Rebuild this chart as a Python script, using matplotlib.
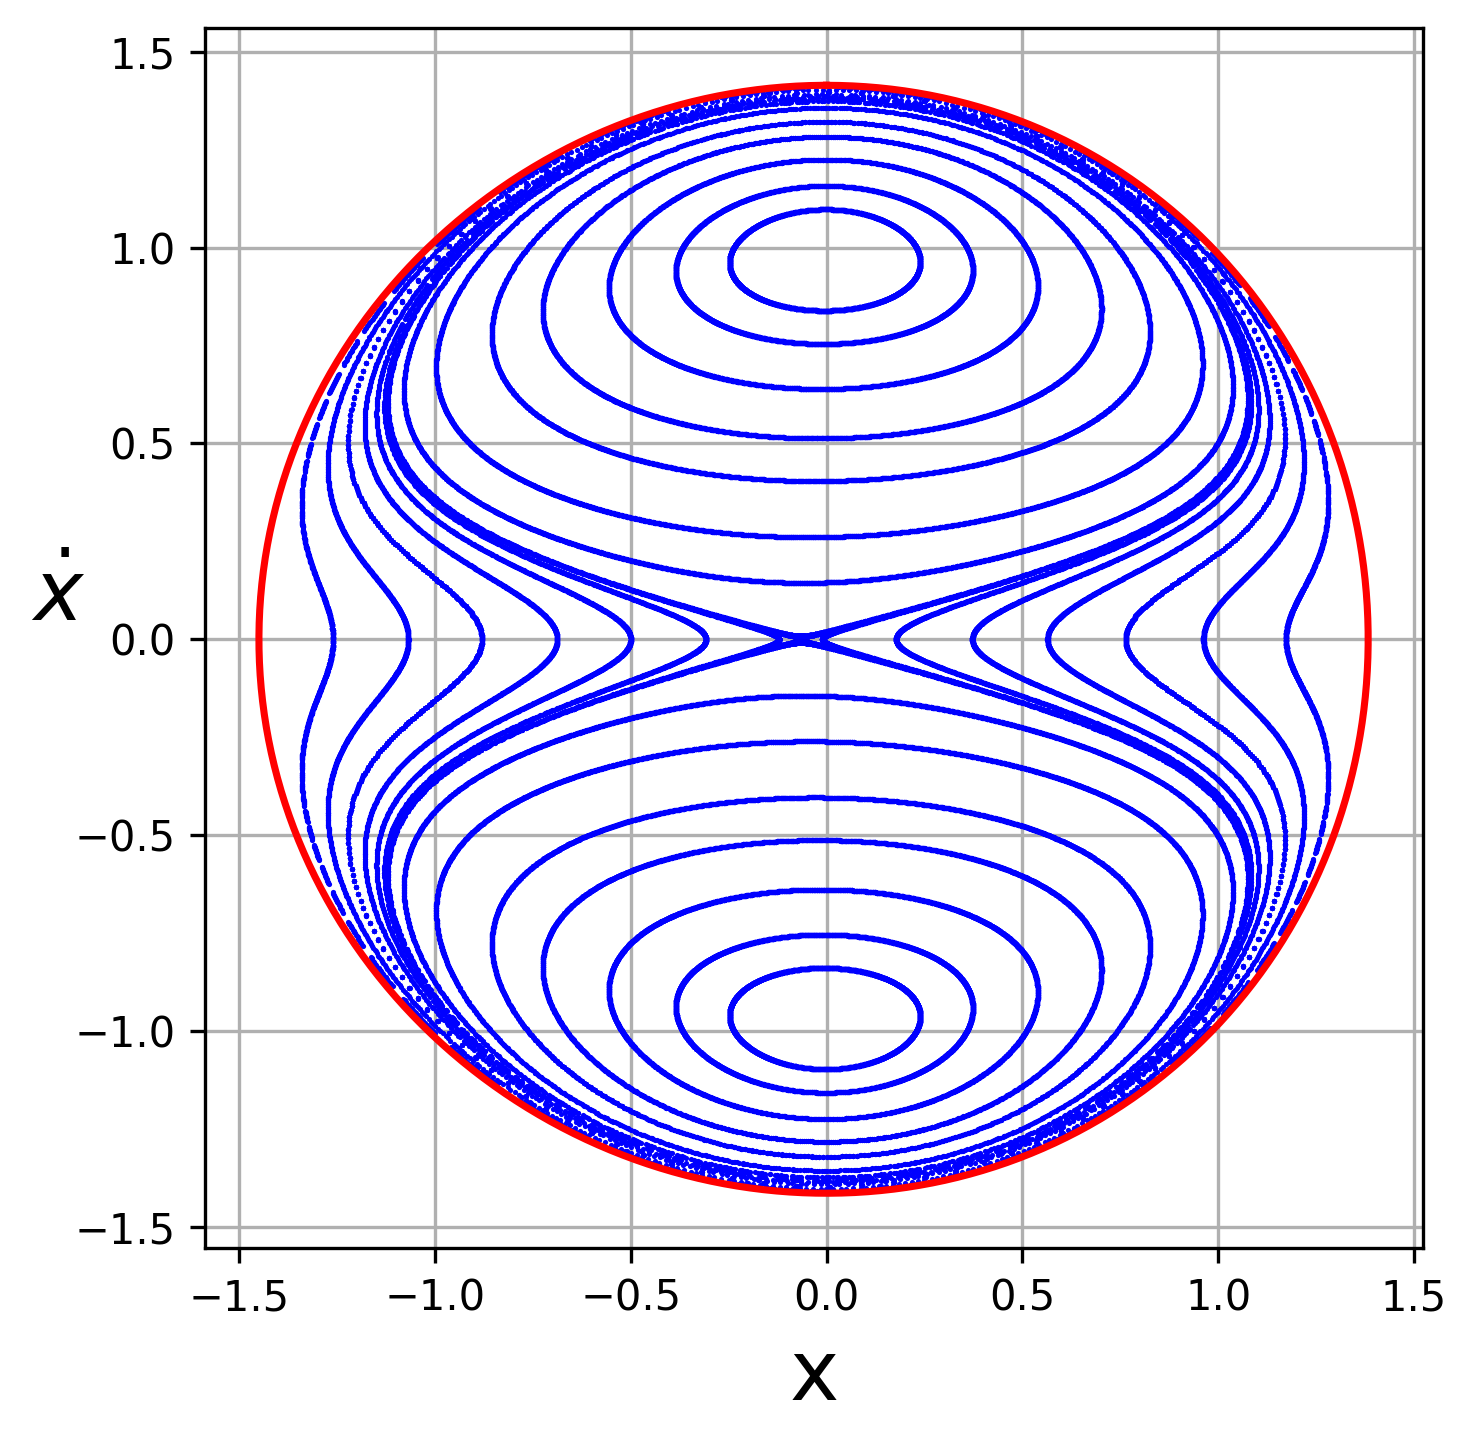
import numpy as np
import matplotlib
matplotlib.use("Agg")
import matplotlib.pyplot as plt

# energy surface: xdot^2 + x^2 + c*x^3 = 2E  (red boundary)
energy = 1.0
cubic = 0.033

# averaged 1:1 resonance model used for the section (fitted by eye)
k_sad = 0.075      # saddle strength at the centre
gam = -0.048       # places the islands at xdot ~ +-0.96
eps = -0.0070      # small left/right asymmetry

# where the invariant curves cut the x axis (left side)
x_cross = [-1.260, -1.0675, -0.880, -0.6875, -0.500, -0.308, -0.121]
# where the island curves cut the xdot axis (inner side of the upper island)
xdot_cross = [0.839, 0.754, 0.639, 0.513, 0.404, 0.261, 0.145, 0.0195]

n_iter = 3200
tau = 0.0571
n_sub = 4


def ham(X, P):
    u, v = P**2, X**2
    s = u + v
    w = np.clip(2 * energy - s, 0, None)
    a = (1 - k_sad) / 2
    b = (1 + k_sad) / 2
    return a * s * w + b * (u - v) * w + gam * s**2 + eps * X * w**1.5


def rhs(X, P, h=1e-6):
    dHdP = (ham(X, P + h) - ham(X, P - h)) / (2 * h)
    dHdX = (ham(X + h, P) - ham(X - h, P)) / (2 * h)
    return dHdP, -dHdX


def to_plot_x(X):
    # undo the cubic stretch so the disc becomes the energy boundary
    x = X.copy()
    for _ in range(8):
        x = X / np.sqrt(1 + cubic * x)
    return x


# initial conditions in model coordinates
xc = np.array(x_cross)
X0 = list(xc * np.sqrt(1 + cubic * xc))
P0 = [0.0] * len(x_cross)
for p in xdot_cross:
    X0 += [0.0, 0.0]
    P0 += [p, -p]
X = np.array(X0, dtype=float)
P = np.array(P0, dtype=float)

dt = tau / n_sub
pts_X, pts_P = [], []
for i in range(n_iter):
    pts_X.append(X.copy())
    pts_P.append(P.copy())
    for _ in range(n_sub):
        k1x, k1p = rhs(X, P)
        k2x, k2p = rhs(X + 0.5 * dt * k1x, P + 0.5 * dt * k1p)
        k3x, k3p = rhs(X + 0.5 * dt * k2x, P + 0.5 * dt * k2p)
        k4x, k4p = rhs(X + dt * k3x, P + dt * k3p)
        X = X + dt / 6 * (k1x + 2 * k2x + 2 * k3x + k4x)
        P = P + dt / 6 * (k1p + 2 * k2p + 2 * k3p + k4p)

pts_X = np.concatenate(pts_X)
pts_P = np.concatenate(pts_P)
sec_x = to_plot_x(pts_X)
sec_v = pts_P

# energy boundary
th = np.linspace(0, 2 * np.pi, 800)
R = np.sqrt(2 * energy)
bx = to_plot_x(R * np.sin(th))
bv = R * np.cos(th)

fig = plt.figure(figsize=(1475 / 300, 1447 / 300), dpi=300)
ax = fig.add_axes([205 / 1475, 199 / 1447, 1218 / 1475, 1220 / 1447])

ax.plot(sec_x, sec_v, 'o', color='blue', ms=1.25, mew=0, linestyle='none')
ax.plot(bx, bv, color='red', lw=1.7)

ax.set_xlim(-1.587, 1.523)
ax.set_ylim(-1.554, 1.5605)
ax.grid(True)
ax.set_xlabel('x', fontsize=20)
ax.set_ylabel(r'$\dot{x}$', fontsize=20, rotation=0)

fig.savefig('out.png', dpi=300)
